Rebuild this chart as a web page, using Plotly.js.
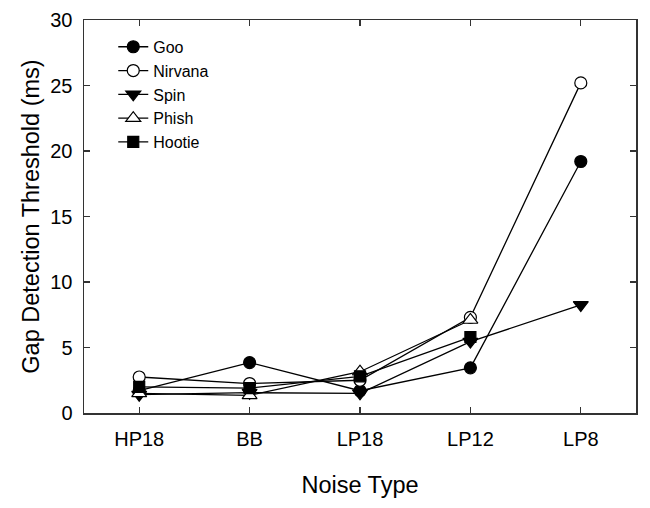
<!DOCTYPE html>
<html>
<head>
<meta charset="utf-8">
<script src="https://cdn.plot.ly/plotly-3.0.1.min.js"></script>
<style>html,body{margin:0;padding:0;background:#fff;}#chart{width:650px;height:508px;}</style>
</head>
<body>
<div id="chart"></div>
<script>
const categories = ["HP18", "BB", "LP18", "LP12", "LP8"];
const goo = [1.7, 3.85, 1.7, 3.45, 19.2];
const nirvana = [2.75, 2.25, 2.5, 7.3, 25.2];
const spin = [1.4, 1.55, 1.5, 5.45, 8.25];
const phish = [1.5, 1.35, 3.15, 7.1, null];
const hootie = [2.0, 1.9, 2.8, 5.8, null];
const seriesNames = ["Goo", "Nirvana", "Spin", "Phish", "Hootie"];
const seriesValues = [goo, nirvana, spin, phish, hootie];
const symbols = ["circle", "circle", "triangle-down", "triangle-up", "square"];
const fills = ["#000", "#fff", "#000", "#fff", "#000"];
const sizes = [12, 12, 13, 13, 11];

const xIdx = categories.map((c, i) => i);
const traces = seriesValues.map((vals, k) => ({
  type: "scatter",
  mode: "lines+markers",
  name: seriesNames[k],
  x: xIdx,
  y: vals,
  connectgaps: false,
  line: {color: "#000", width: 1.3},
  marker: {
    symbol: symbols[k],
    size: sizes[k],
    color: fills[k],
    line: {color: "#000", width: 1.2}
  }
}));

const font = "Liberation Sans, Arial, sans-serif";
const layout = {
  width: 650, height: 508,
  margin: {l: 84, r: 14, t: 20, b: 95},
  paper_bgcolor: "#fff", plot_bgcolor: "#fff",
  font: {family: font, color: "#000"},
  showlegend: true,
  legend: {
    x: 0.053, y: 0.975, xanchor: "left", yanchor: "top",
    bgcolor: "rgba(0,0,0,0)", borderwidth: 0,
    font: {size: 16, family: font, color: "#000"},
    tracegroupgap: 0
  },
  xaxis: {
    range: [-0.5, 4.5],
    tickmode: "array", tickvals: xIdx, ticktext: categories,
    ticks: "inside", ticklen: 6, tickwidth: 1.2, tickcolor: "#333",
    showline: true, linecolor: "#333", linewidth: 1.5, mirror: "ticks",
    showgrid: false, zeroline: false,
    tickfont: {size: 20, family: font, color: "#000"},
    ticklabelstandoff: 7,
    title: {text: "Noise Type", font: {size: 23.5, family: font, color: "#000"}, standoff: 28}
  },
  yaxis: {
    range: [0, 30],
    tickvals: [0, 5, 10, 15, 20, 25, 30],
    ticks: "inside", ticklen: 6, tickwidth: 1.2, tickcolor: "#333",
    showline: true, linecolor: "#333", linewidth: 1.5, mirror: "ticks",
    showgrid: false, zeroline: false,
    tickfont: {size: 20, family: font, color: "#000"},
    ticklabelstandoff: 6,
    title: {text: "Gap Detection Threshold (ms)", font: {size: 23.5, family: font, color: "#000"}, standoff: 4}
  }
};
Plotly.newPlot("chart", traces, layout, {staticPlot: true, displayModeBar: false});
</script>
</body>
</html>
